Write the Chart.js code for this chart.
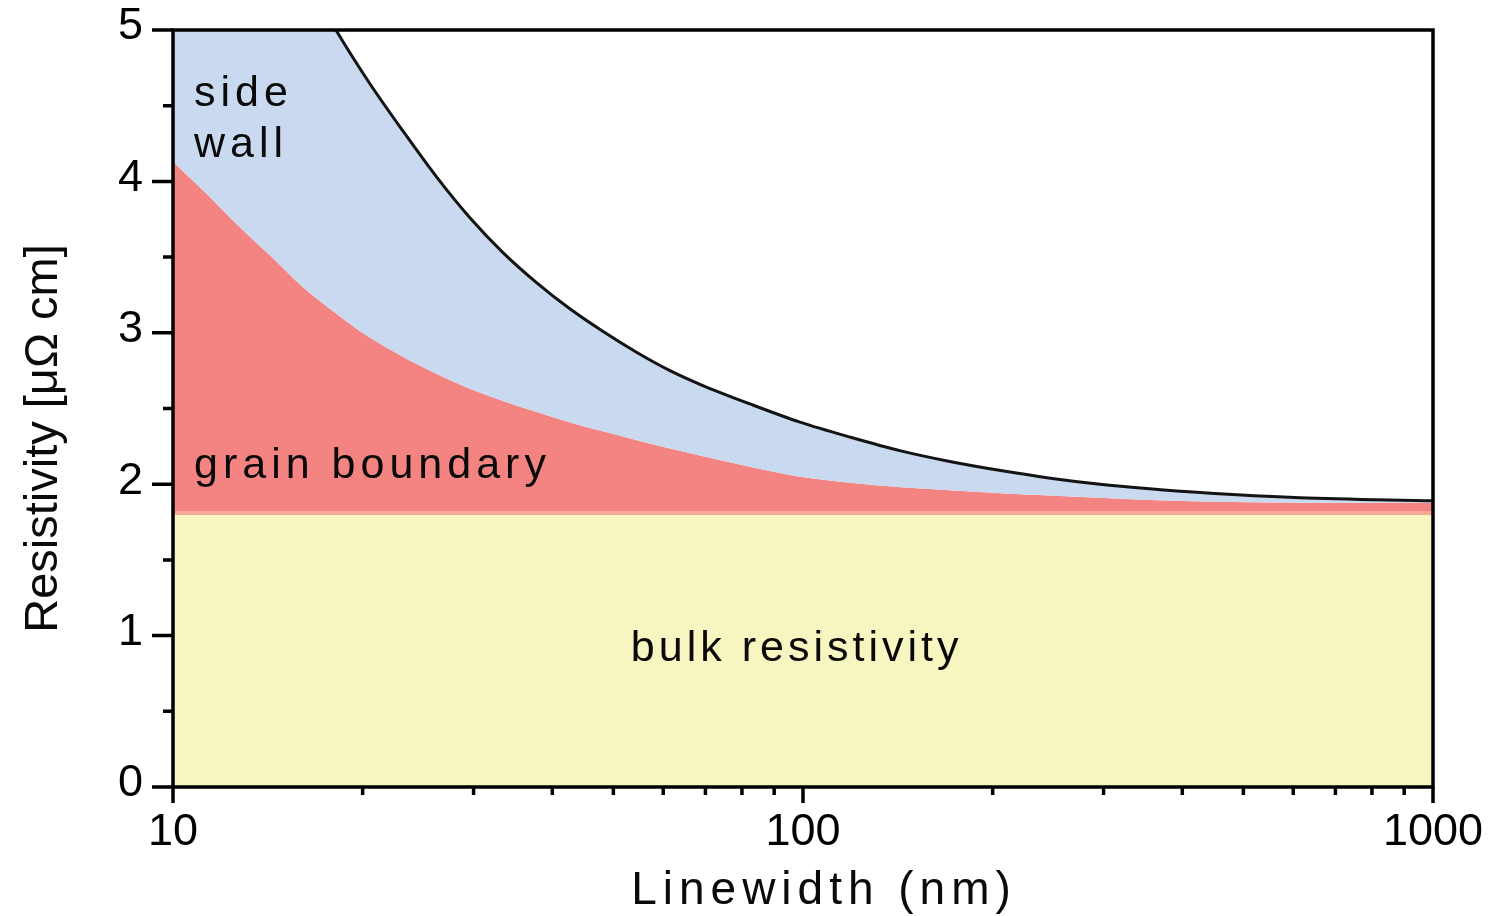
<!DOCTYPE html>
<html>
<head>
<meta charset="utf-8">
<script src="https://cdn.jsdelivr.net/npm/chart.js@4.4.1/dist/chart.umd.min.js"></script>
<style>
  html, body { margin: 0; padding: 0; background: #ffffff; }
  canvas { display: block; }
</style>
</head>
<body>
<canvas id="chart" width="1501" height="916"></canvas>
<script>
// ---- data ----
const linewidthNm = [10, 11.2, 12.6, 14.3, 16.1, 18.2, 20.5, 23.2, 26.2, 29.6, 33.4, 37.8, 42.6, 48.1, 54.5, 61.5, 68.6, 82.4, 98.9, 119, 143, 171, 206, 247, 296, 355, 427, 615, 1000];
const totalResistivity = [7.36, 6.81, 6.30, 5.79, 5.38, 4.99, 4.65, 4.33, 4.03, 3.76, 3.53, 3.33, 3.16, 3.01, 2.87, 2.75, 2.66, 2.53, 2.41, 2.31, 2.22, 2.15, 2.09, 2.04, 2.00, 1.97, 1.945, 1.91, 1.89];
const grainBoundaryTop = [4.13, 3.935, 3.72, 3.505, 3.30, 3.125, 2.97, 2.84, 2.73, 2.63, 2.55, 2.477, 2.41, 2.35, 2.29, 2.235, 2.19, 2.115, 2.05, 2.01, 1.98, 1.96, 1.94, 1.925, 1.91, 1.895, 1.885, 1.877, 1.877];
const bulkLinewidth = [10, 1000];
const bulkResistivity = [1.81, 1.81];

const xMajorTicks = [10, 100, 1000];
const xTickLabels = ['10', '100', '1000'];
const xMinorTicks = [20, 30, 40, 50, 60, 70, 80, 90, 200, 300, 400, 500, 600, 700, 800, 900];
const yMajorTicks = [0, 1, 2, 3, 4, 5];
const yTickLabels = ['0', '1', '2', '3', '4', '5'];
const yMinorTicks = [0.5, 1.5, 2.5, 3.5, 4.5];

const regionLabels = ['side', 'wall', 'grain boundary', 'bulk resistivity'];
const xAxisTitle = 'Linewidth (nm)';
const yAxisTitle = 'Resistivity [μΩ cm]';

// ---- rendering ----
const FONT = '"Liberation Sans", Arial, Helvetica, sans-serif';

const axesAndLabels = {
  id: 'axesAndLabels',
  afterDraw(chart) {
    const ctx = chart.ctx;
    const xs = chart.scales.x, ys = chart.scales.y;
    const L = xs.getPixelForValue(10), R = xs.getPixelForValue(1000);
    const T = ys.getPixelForValue(5), B = ys.getPixelForValue(0);
    ctx.save();
    ctx.strokeStyle = '#000';
    ctx.lineWidth = 3.5;
    ctx.lineCap = 'butt';
    ctx.strokeRect(L, T, R - L, B - T);
    ctx.beginPath();
    yMajorTicks.forEach(v => { const p = ys.getPixelForValue(v); ctx.moveTo(L - 21, p); ctx.lineTo(L, p); });
    yMinorTicks.forEach(v => { const p = ys.getPixelForValue(v); ctx.moveTo(L - 10, p); ctx.lineTo(L, p); });
    xMajorTicks.forEach(v => { const p = xs.getPixelForValue(v); ctx.moveTo(p, B); ctx.lineTo(p, B + 16); });
    xMinorTicks.forEach(v => { const p = xs.getPixelForValue(v); ctx.moveTo(p, B); ctx.lineTo(p, B + 8); });
    ctx.stroke();

    // region labels
    ctx.fillStyle = '#0a0a0a';
    ctx.textAlign = 'left';
    ctx.textBaseline = 'alphabetic';
    ctx.font = '43px ' + FONT;
    const anchors = [[10.8, 4.50, 5], [10.8, 4.16, 5], [10.8, 2.04, 5], [53.3, 0.83, 4]];
    regionLabels.forEach((t, i) => {
      const [ax, ay, sp] = anchors[i];
      ctx.letterSpacing = sp + 'px';
      ctx.fillText(t, xs.getPixelForValue(ax), ys.getPixelForValue(ay));
    });

    // x axis title
    ctx.font = '46px ' + FONT;
    ctx.letterSpacing = '6px';
    ctx.textAlign = 'center';
    ctx.fillText(xAxisTitle, (L + R) / 2 + 21, B + 117);

    // y axis title
    ctx.letterSpacing = '0px';
    ctx.font = '47px ' + FONT;
    ctx.translate(44, (T + B) / 2 + 30);
    ctx.rotate(-Math.PI / 2);
    ctx.textBaseline = 'middle';
    ctx.fillText(yAxisTitle, 0, 0);
    ctx.restore();
  }
};

const tickFont = { family: FONT, size: 45 };

new Chart(document.getElementById('chart').getContext('2d'), {
  type: 'line',
  data: {
    datasets: [
      {
        label: 'bulk resistivity',
        data: bulkLinewidth.map((x, i) => ({ x, y: bulkResistivity[i] })),
        fill: 'origin',
        backgroundColor: '#f7f6c0',
        borderColor: '#f6a897',
        borderWidth: 4,
        pointRadius: 0
      },
      {
        label: 'grain boundary',
        data: linewidthNm.map((x, i) => ({ x, y: grainBoundaryTop[i] })),
        fill: '-1',
        backgroundColor: '#f48481',
        borderColor: '#f48481',
        borderWidth: 0,
        pointRadius: 0,
        cubicInterpolationMode: 'monotone'
      },
      {
        label: 'side wall',
        data: linewidthNm.map((x, i) => ({ x, y: totalResistivity[i] })),
        fill: '-1',
        backgroundColor: '#c9d9ef',
        borderColor: '#141414',
        borderWidth: 3,
        pointRadius: 0,
        cubicInterpolationMode: 'monotone',
        order: -1
      }
    ]
  },
  options: {
    responsive: false,
    animation: false,
    devicePixelRatio: 1,
    layout: { padding: { top: 30, right: 68, bottom: 0, left: 0 } },
    plugins: { legend: { display: false }, tooltip: { enabled: false } },
    scales: {
      x: {
        type: 'logarithmic',
        min: 10,
        max: 1000,
        grid: { display: false, drawTicks: false },
        border: { display: false },
        afterBuildTicks: s => { s.ticks = xMajorTicks.map(v => ({ value: v, major: true })); },
        afterFit: s => { s.height = 129; s.paddingLeft = 0; s.paddingRight = 0; },
        ticks: {
          autoSkip: false, maxRotation: 0, minRotation: 0, padding: 19,
          font: tickFont, color: '#000',
          callback: (v, i) => xTickLabels[i]
        }
      },
      y: {
        min: 0,
        max: 5,
        grid: { display: false, drawTicks: false },
        border: { display: false },
        afterBuildTicks: s => { s.ticks = yMajorTicks.map(v => ({ value: v })); },
        afterFit: s => { s.width = 173; s.paddingTop = 0; s.paddingBottom = 0; },
        ticks: {
          padding: 30, labelOffset: -3,
          font: tickFont, color: '#000',
          callback: (v, i) => yTickLabels[i]
        }
      }
    }
  },
  plugins: [axesAndLabels]
});
</script>
</body>
</html>
